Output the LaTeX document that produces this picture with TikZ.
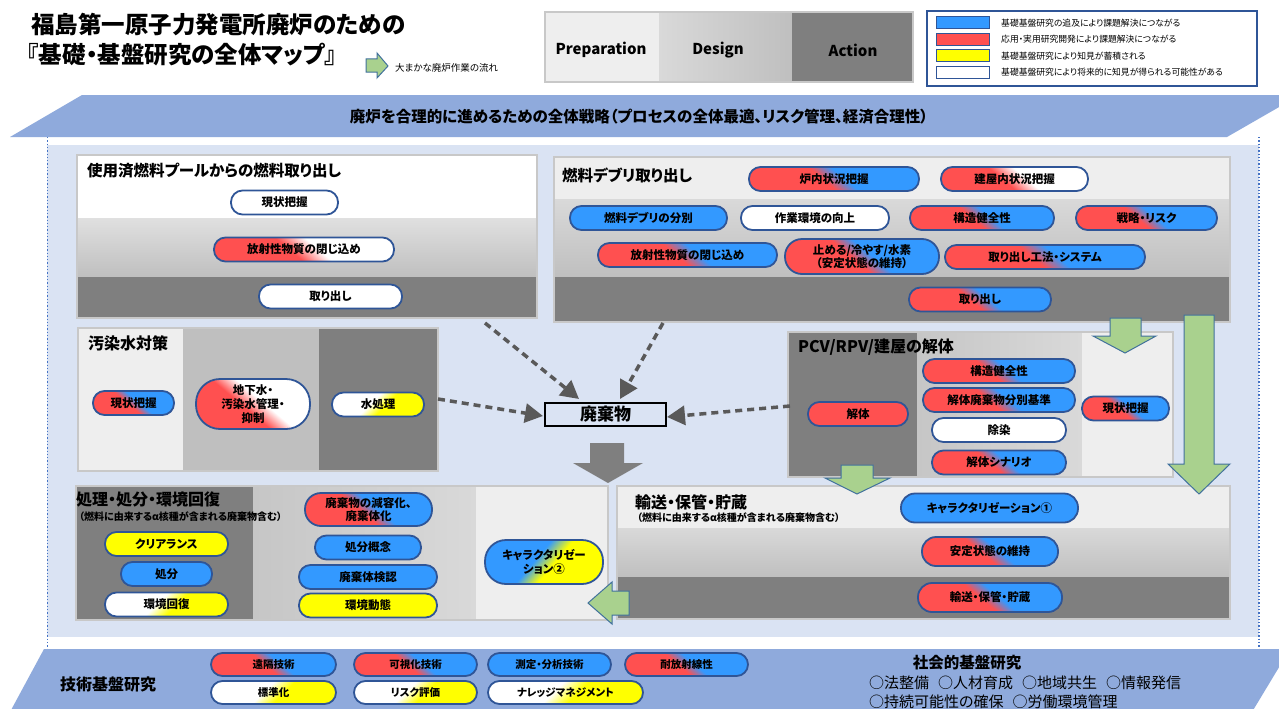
\documentclass[tikz,border=0pt]{standalone}
\usepackage{fontspec}
\setmainfont{Noto Sans CJK JP}[RawFeature=+palt]
\usetikzlibrary{arrows.meta}
\definecolor{cblue}{HTML}{3399FF}
\definecolor{cred}{HTML}{FF5050}
\definecolor{cyel}{HTML}{FFFF00}
\definecolor{pillb}{HTML}{2F5597}
\definecolor{bgblue}{HTML}{DAE3F3}
\definecolor{band}{HTML}{8FAADC}
\definecolor{dotblue}{HTML}{4472C4}
\definecolor{gA}{HTML}{7F7F7F}
\definecolor{gL}{HTML}{EEEEEE}
\definecolor{gM}{HTML}{BFBFBF}
\definecolor{gN}{HTML}{D9D9D9}
\definecolor{gE}{HTML}{E0E0E0}
\definecolor{gC}{HTML}{C6C6C6}
\definecolor{pborder}{HTML}{C8C8C8}
\definecolor{grn}{HTML}{A9D18E}
\definecolor{grnb}{HTML}{41719C}
\definecolor{darr}{HTML}{595959}
\pgfdeclarehorizontalshading{rbsh}{100bp}{color(0bp)=(cred); color(46bp)=(cred); color(54bp)=(cblue); color(100bp)=(cblue)}
\pgfdeclarehorizontalshading{rwsh}{100bp}{color(0bp)=(cred); color(45bp)=(cred); color(55bp)=(white); color(100bp)=(white)}
\pgfdeclarehorizontalshading{wysh}{100bp}{color(0bp)=(white); color(45bp)=(white); color(55bp)=(cyel); color(100bp)=(cyel)}
\pgfdeclarehorizontalshading{bysh}{100bp}{color(0bp)=(cblue); color(45bp)=(cblue); color(55bp)=(cyel); color(100bp)=(cyel)}
\newcommand\fsz[2]{\fontsize{#1}{#2}\selectfont}
\tikzset{
  pill/.style={draw=pillb, line width=1.8pt, rounded corners=11.5pt, minimum height=24pt, inner sep=0pt, font=\fsz{11.5}{13.5}\bfseries, align=center, text=black},
  pB/.style={pill, fill=cblue},
  pR/.style={pill, fill=cred},
  pW/.style={pill, fill=white},
  pY/.style={pill, fill=cyel},
  pRB/.style={pill, shade, shading=rbsh, shading angle=50},
  pRW/.style={pill, shade, shading=rwsh, shading angle=50},
  pWY/.style={pill, shade, shading=wysh, shading angle=-45},
  pBY/.style={pill, shade, shading=bysh, shading angle=-40},
  bpill/.style={font=\fsz{10.5}{12}\bfseries, minimum height=23pt},
  ptitle/.style={anchor=west, inner sep=0pt, font=\fsz{15.5}{18}\bfseries},
  psub/.style={anchor=west, inner sep=0pt, font=\fsz{10}{12}\bfseries},
  darrow/.style={draw=darr, line width=3.5pt, dash pattern=on 7pt off 5pt, -{Triangle[width=19pt,length=18pt]}},
  garrow/.style={fill=grn, draw=grnb, line width=1pt},
  pframe/.style={draw=pborder, line width=1.3pt},
  legtxt/.style={anchor=west, inner sep=0pt, font=\fsz{8.8}{10}},
  swatch/.style={draw=pillb, line width=1pt, minimum width=53pt, minimum height=12pt, inner sep=0pt},
}
\begin{document}
\begin{tikzpicture}[x=1pt,y=-1pt]
\useasboundingbox (0,0) rectangle (1279,709);
\fill[white] (0,0) rectangle (1279,709);

% ---------- title ----------
\node[anchor=west, inner sep=0pt, font=\fsz{23.5}{26}\bfseries] (title1) at (31,25) {福島第一原子力発電所廃炉のための};
\node[anchor=west, inner sep=0pt, font=\fsz{23.5}{26}\bfseries] (title2) at (27,55) {『基礎・基盤研究の全体マップ』};
\draw[garrow] (366,59) -- (377,59) -- (377,53) -- (388,66) -- (377,78) -- (377,72) -- (366,72) -- cycle;
\node[anchor=west, inner sep=0pt, font=\fsz{9.5}{11}] (flowtxt) at (395,68) {大まかな廃炉作業の流れ};

% ---------- phase box ----------
\fill[gL] (545,12) rectangle (659,82);
\shade[left color=gN, right color=gM] (659,12) rectangle (792,82);
\fill[gA] (792,12) rectangle (913,82);
\draw[pframe] (545,12) rectangle (913,82);
\node[font=\fsz{15}{17}\bfseries] (prep) at (601,50) {Preparation};
\node[font=\fsz{15}{17}\bfseries] (design) at (718,50) {Design};
\node[font=\fsz{15}{17}\bfseries] (action) at (853,50) {Action};

% ---------- legend ----------
\draw[pillb, line width=1.2pt, fill=white] (927,11) rectangle (1257,86);
\node[swatch, fill=cblue] (sw1) at (962.5,23) {};
\node[swatch, fill=cred] (sw2) at (962.5,39.5) {};
\node[swatch, fill=cyel] (sw3) at (962.5,56) {};
\node[swatch, fill=white] (sw4) at (962.5,72.5) {};
\node[legtxt] (lg1) at (1001,23) {基礎基盤研究の追及により課題解決につながる};
\node[legtxt] (lg2) at (1001,39.5) {応用・実用研究開発により課題解決につながる};
\node[legtxt] (lg3) at (1001,56) {基礎基盤研究により知見が蓄積される};
\node[legtxt] (lg4) at (1001,72.5) {基礎基盤研究により将来的に知見が得られる可能性がある};

% ---------- main background ----------
\fill[bgblue] (47,145) rectangle (1259,637);
\draw[dotblue, line width=1.3pt, dotted] (47.5,137) -- (47.5,655);
\draw[dotblue, line width=1.3pt, dotted] (1259,137) -- (1259,655);

% banner
\fill[band] (82,95) -- (1300,95) -- (1227,137) -- (10,137) -- cycle;
\node[font=\fsz{15.5}{18}\bfseries] (strategy) at (639,117) {廃炉を合理的に進めるための全体戦略（プロセスの全体最適、リスク管理、経済合理性）};

% ---------- panel 1 ----------
\fill[white] (77,155) rectangle (537,218);
\shade[top color=gE, bottom color=gM] (77,218) rectangle (537,277);
\fill[gA] (77,277) rectangle (537,318);
\draw[pframe] (77,155) rectangle (537,318);
\node[ptitle] (p1t) at (87,171) {使用済燃料プールからの燃料取り出し};

% ---------- panel 2 ----------
\fill[gL] (554,157) rectangle (1230,199);
\shade[top color=gN, bottom color=gM] (554,199) rectangle (1230,277);
\fill[gA] (554,277) rectangle (1230,322);
\draw[pframe] (554,157) rectangle (1230,322);
\node[ptitle] (p2t) at (562,175) {燃料デブリ取り出し};

% ---------- panel 3 ----------
\fill[gL] (78,328) rectangle (183,471);
\fill[gM] (183,328) rectangle (319,471);
\fill[gA] (319,328) rectangle (438,471);
\draw[pframe] (78,328) rectangle (438,471);
\node[ptitle, font=\fsz{16}{18}\bfseries] (p3t) at (88,343) {汚染水対策};

% ---------- panel 4 ----------
\fill[gA] (788,332) rectangle (917,477);
\shade[left color=gC, right color=gN] (917,332) rectangle (1082,477);
\fill[gL] (1082,332) rectangle (1173,477);
\draw[pframe] (788,332) rectangle (1173,477);
\node[ptitle, font=\fsz{16}{18}\bfseries] (p4t) at (798,347) {PCV/RPV/建屋の解体};

% ---------- panel 5 ----------
\fill[gA] (76,486) rectangle (253,620);
\shade[left color=gC, right color=gN] (253,486) rectangle (476,620);
\fill[gL] (476,486) rectangle (608,620);
\draw[pframe] (76,486) rectangle (608,620);
\node[ptitle, font=\fsz{16}{18}\bfseries] (p5t) at (76,499) {処理・処分・環境回復};
\node[psub] (p5s) at (79,517) {（燃料に由来するα核種が含まれる廃棄物含む）};

% ---------- panel 6 ----------
\fill[gL] (617,486) rectangle (1230,528);
\shade[top color=gN, bottom color=gM] (617,528) rectangle (1230,577);
\fill[gA] (617,577) rectangle (1230,619);
\draw[pframe] (617,486) rectangle (1230,619);
\node[ptitle, font=\fsz{16}{18}\bfseries] (p6t) at (635,502) {輸送・保管・貯蔵};
\node[psub] (p6s) at (637,518) {（燃料に由来するα核種が含まれる廃棄物含む）};

% ---------- flow arrows ----------
\draw[garrow] (1110,318) -- (1141,318) -- (1141,336) -- (1156,336) -- (1125,353) -- (1093,336) -- (1110,336) -- cycle;
\draw[garrow] (1184,315) -- (1214,315) -- (1214,464) -- (1230,464) -- (1199,494) -- (1168,464) -- (1184,464) -- cycle;
\draw[garrow] (841,465) -- (873,465) -- (873,478) -- (890,478) -- (857,494) -- (825,478) -- (841,478) -- cycle;
\draw[garrow] (629,591) -- (612,591) -- (612,582) -- (588,603) -- (612,624) -- (612,615) -- (629,615) -- cycle;
\fill[gA] (590,443) -- (624,443) -- (624,463) -- (643,463) -- (608,483) -- (573,463) -- (590,463) -- cycle;

% ---------- waste ----------
\node[draw=black, line width=2.8pt, minimum width=121pt, minimum height=23pt, inner sep=0pt, font=\fsz{17}{19}\bfseries] (waste) at (605.5,414.5) {廃棄物};
\coordinate (ds1) at (485,323);
\coordinate (dt1) at (579,399);
\coordinate (ds2) at (663,323);
\coordinate (dt2) at (620,399);
\coordinate (ds3) at (438,399);
\coordinate (dt3) at (543,416);
\coordinate (ds4) at (790,406);
\coordinate (dt4) at (667,417);
\draw[darrow] (ds1) -- (dt1);
\draw[darrow] (ds2) -- (dt2);
\draw[darrow] (ds3) -- (dt3);
\draw[darrow] (ds4) -- (dt4);

% ---------- nodes panel 1 ----------
\node[pW, minimum width=107pt] (sfp1) at (284.5,202.5) {現状把握};
\node[pRW, minimum width=180pt] (sfp2) at (304,249.5) {放射性物質の閉じ込め};
\node[pW, minimum width=143pt] (sfp3) at (330.5,296.5) {取り出し};

% ---------- nodes panel 2 ----------
\node[pRB, minimum width=170pt] (fd1) at (834,179) {炉内状況把握};
\node[pRW, minimum width=147pt] (fd2) at (1014.5,179) {建屋内状況把握};
\node[pB, minimum width=157pt] (fd3) at (648.5,218) {燃料デブリの分別};
\node[pW, minimum width=148pt] (fd4) at (815,218) {作業環境の向上};
\node[pRB, minimum width=144pt] (fd5) at (982,218) {構造健全性};
\node[pRB, minimum width=141pt] (fd6) at (1146.5,218) {戦略・リスク};
\node[pRB, minimum width=179pt] (fd7) at (687.5,255) {放射性物質の閉じ込め};
\node[pRB, minimum width=154pt, minimum height=35pt, rounded corners=17pt] (fd8) at (862,256.5) {止める/冷やす/水素\\（安定状態の維持）};
\node[pRB, minimum width=200pt] (fd9) at (1045,257) {取り出し工法・システム};
\node[pRB, minimum width=142pt] (fd10) at (980,299.5) {取り出し};

% ---------- nodes panel 3 ----------
\node[pRB, minimum width=81pt] (cw1) at (133.5,403) {現状把握};
\node[pRW, minimum width=114pt, minimum height=50pt, rounded corners=24pt, font=\fsz{11.5}{14}\bfseries] (cw2) at (253,404) {地下水・\\汚染水管理・\\抑制};
\node[pWY, minimum width=92pt] (cw3) at (378,404.5) {水処理};

% ---------- nodes panel 4 ----------
\node[pR, minimum width=100pt] (pc1) at (858,414) {解体};
\node[pRB, minimum width=152pt] (pc2) at (999,371) {構造健全性};
\node[pRB, minimum width=152pt] (pc3) at (999,400) {解体廃棄物分別基準};
\node[pW, minimum width=134pt] (pc4) at (999,430) {除染};
\node[pRB, minimum width=134pt] (pc5) at (999,462.5) {解体シナリオ};
\node[pRB, minimum width=87pt] (pc6) at (1125.5,408.5) {現状把握};

% ---------- nodes panel 5 ----------
\node[pY, minimum width=123pt] (tr1) at (166.5,544) {クリアランス};
\node[pB, minimum width=91pt] (tr2) at (166.5,574) {処分};
\node[pWY, minimum width=123pt] (tr3) at (166.5,604.5) {環境回復};
\node[pRB, minimum width=127pt, minimum height=33pt, rounded corners=16pt] (tr4) at (368.5,509.5) {廃棄物の減容化、\\廃棄体化};
\node[pB, minimum width=106pt] (tr5) at (368,547.5) {処分概念};
\node[pB, minimum width=138pt] (tr6) at (368,577) {廃棄体検認};
\node[pY, minimum width=138pt] (tr7) at (368,605.5) {環境動態};
\node[pBY, minimum width=118pt, minimum height=44pt, rounded corners=21pt] (tr8) at (544,562) {キャラクタリゼー\\ション②};

% ---------- nodes panel 6 ----------
\node[pB, minimum width=177pt, minimum height=29pt, rounded corners=14pt] (ts1) at (989.5,508) {キャラクタリゼーション①};
\node[pRB, minimum width=136pt, minimum height=29pt, rounded corners=14pt] (ts2) at (990,551.5) {安定状態の維持};
\node[pRB, minimum width=144pt, minimum height=29pt, rounded corners=14pt] (ts3) at (990,597.5) {輸送・保管・貯蔵};

% ---------- bottom bar ----------
\fill[band] (44,649) -- (1290,649) -- (1252,712) -- (10,712) -- cycle;
\node[anchor=west, inner sep=0pt, font=\fsz{16}{18}\bfseries] (tech) at (60,684) {技術基盤研究};
\node[pRB, bpill, minimum width=125pt] (b1) at (273.5,664.5) {遠隔技術};
\node[pRB, bpill, minimum width=123pt] (b2) at (415.5,664.5) {可視化技術};
\node[pB, bpill, minimum width=123pt] (b3) at (549.5,664.5) {測定・分析技術};
\node[pRB, bpill, minimum width=123pt] (b4) at (686.5,664.5) {耐放射線性};
\node[pWY, bpill, minimum width=125pt] (b5) at (273.5,692.5) {標準化};
\node[pWY, bpill, minimum width=123pt] (b6) at (415.5,692.5) {リスク評価};
\node[pWY, bpill, minimum width=155pt] (b7) at (565.5,692.5) {ナレッジマネジメント};
\node[font=\fsz{15.5}{18}\bfseries] (social) at (967,663) {社会的基盤研究};
\node[anchor=west, inner sep=0pt, font=\fsz{15}{17}] (soc1) at (869,683) {○法整備\hspace{0.6em}○人材育成\hspace{0.6em}○地域共生\hspace{0.6em}○情報発信};
\node[anchor=west, inner sep=0pt, font=\fsz{15}{17}] (soc2) at (869,702) {○持続可能性の確保\hspace{0.6em}○労働環境管理};
\end{tikzpicture}
\end{document}
